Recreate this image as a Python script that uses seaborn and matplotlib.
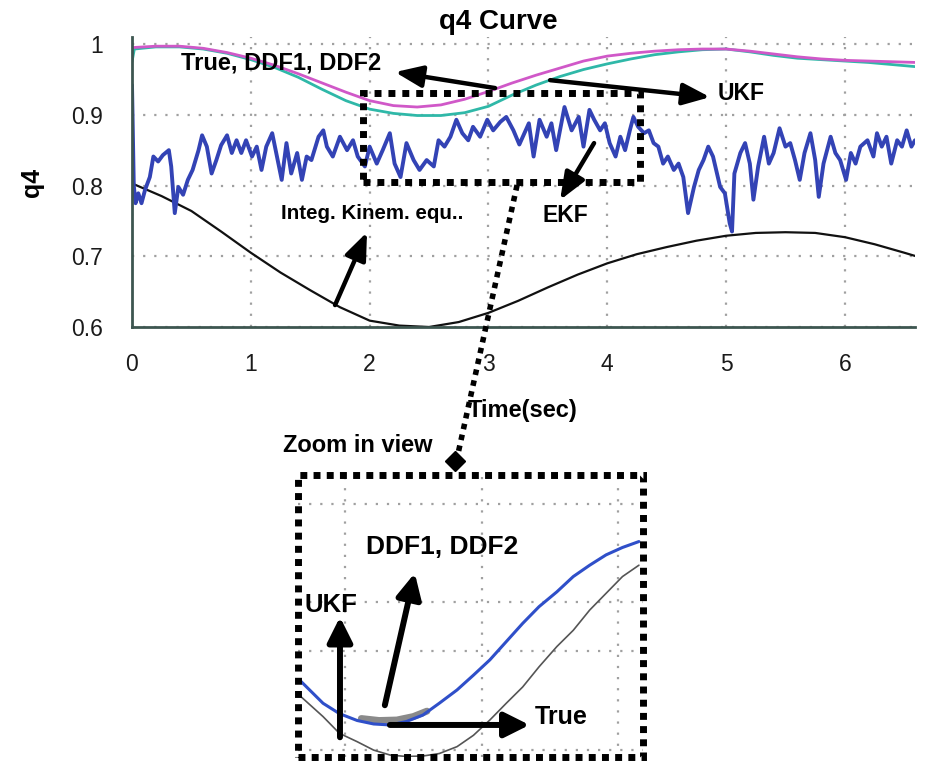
import matplotlib
matplotlib.use("Agg")
import matplotlib.pyplot as plt
import seaborn as sns
from matplotlib.patches import Rectangle

# ---------------- data (main plot) ----------------
true_t = [0.0, 0.2, 0.4, 0.6, 0.8, 1.0, 1.2, 1.4, 1.6, 1.8, 2.0, 2.2, 2.4, 2.6, 2.8, 3.0, 3.2, 3.4, 3.6,
          3.8, 4.0, 4.2, 4.4, 4.6, 4.8, 5.0, 5.2, 5.4, 5.6, 5.8, 6.0, 6.2, 6.4, 6.6]
true_q = [0.995, 0.997, 0.997, 0.994, 0.988, 0.980, 0.970, 0.958, 0.945, 0.932, 0.920, 0.913, 0.911, 0.914,
          0.922, 0.933, 0.945, 0.956, 0.966, 0.976, 0.983, 0.987, 0.990, 0.992, 0.993, 0.993, 0.990, 0.986,
          0.982, 0.979, 0.977, 0.976, 0.975, 0.974]

ukf_t = [0.0, 0.02, 0.2, 0.4, 0.6, 0.8, 1.0, 1.2, 1.4, 1.6, 1.8, 2.0, 2.2, 2.4, 2.6, 2.8, 3.0, 3.2, 3.4,
         3.6, 3.8, 4.0, 4.2, 4.4, 4.6, 4.8, 5.0, 5.2, 5.4, 5.6, 5.8, 6.0, 6.2, 6.4, 6.6]
ukf_q = [0.975, 0.993, 0.996, 0.996, 0.993, 0.987, 0.978, 0.967, 0.953, 0.936, 0.920, 0.908, 0.902, 0.899,
         0.899, 0.903, 0.912, 0.928, 0.942, 0.954, 0.964, 0.972, 0.979, 0.985, 0.989, 0.992, 0.993, 0.989,
         0.984, 0.980, 0.978, 0.976, 0.974, 0.971, 0.968]

ekf_t = [0.0, 0.015, 0.03, 0.053, 0.08, 0.11, 0.15, 0.18, 0.22, 0.26, 0.31, 0.33, 0.36, 0.39, 0.43, 0.47,
         0.51, 0.56, 0.59, 0.63, 0.67, 0.71, 0.75, 0.80, 0.84, 0.88, 0.92, 0.96, 1.01, 1.05, 1.09, 1.13,
         1.18, 1.22, 1.26, 1.30, 1.34, 1.39, 1.43, 1.47, 1.51, 1.57, 1.61, 1.64, 1.69, 1.75, 1.81, 1.86,
         1.90, 1.96, 2.00, 2.06, 2.11, 2.17, 2.21, 2.26, 2.31, 2.37, 2.42, 2.48, 2.54, 2.58, 2.63, 2.68,
         2.73, 2.78, 2.83, 2.87, 2.93, 2.99, 3.04, 3.10, 3.15, 3.21, 3.26, 3.34, 3.38, 3.43, 3.49, 3.53,
         3.57, 3.64, 3.70, 3.76, 3.80, 3.85, 3.89, 3.94, 3.98, 4.02, 4.07, 4.11, 4.15, 4.19, 4.22, 4.26,
         4.31, 4.35, 4.39, 4.43, 4.47, 4.51, 4.56, 4.60, 4.64, 4.68, 4.73, 4.77, 4.81, 4.85, 4.89, 4.95,
         4.99, 5.03, 5.05, 5.07, 5.12, 5.16, 5.20, 5.23, 5.27, 5.32, 5.36, 5.40, 5.45, 5.50, 5.54, 5.58,
         5.62, 5.66, 5.71, 5.75, 5.78, 5.82, 5.88, 5.92, 5.96, 6.01, 6.05, 6.09, 6.13, 6.19, 6.24, 6.27,
         6.31, 6.35, 6.39, 6.44, 6.48, 6.52, 6.56, 6.59]
ekf_q = [0.942, 0.800, 0.775, 0.789, 0.775, 0.794, 0.812, 0.841, 0.834, 0.843, 0.850, 0.827, 0.761, 0.798, 0.787, 0.808,
         0.822, 0.850, 0.871, 0.855, 0.817, 0.836, 0.857, 0.871, 0.846, 0.864, 0.846, 0.864, 0.841, 0.855, 0.822, 0.855,
         0.874, 0.841, 0.808, 0.860, 0.817, 0.846, 0.808, 0.841, 0.836, 0.869, 0.878, 0.855, 0.841, 0.869, 0.850, 0.864,
         0.841, 0.827, 0.855, 0.831, 0.850, 0.874, 0.831, 0.812, 0.860, 0.836, 0.822, 0.836, 0.827, 0.864, 0.855, 0.869,
         0.893, 0.874, 0.864, 0.883, 0.869, 0.893, 0.878, 0.890, 0.897, 0.878, 0.858, 0.888, 0.841, 0.893, 0.869, 0.888,
         0.850, 0.911, 0.878, 0.897, 0.855, 0.907, 0.893, 0.878, 0.888, 0.860, 0.841, 0.869, 0.850, 0.878, 0.897, 0.883,
         0.874, 0.878, 0.860, 0.855, 0.831, 0.841, 0.822, 0.831, 0.812, 0.761, 0.798, 0.822, 0.836, 0.855, 0.841, 0.798,
         0.789, 0.747, 0.735, 0.817, 0.846, 0.860, 0.831, 0.780, 0.827, 0.869, 0.831, 0.846, 0.881, 0.855, 0.860, 0.836,
         0.808, 0.846, 0.874, 0.836, 0.784, 0.831, 0.869, 0.846, 0.836, 0.808, 0.846, 0.831, 0.855, 0.864, 0.841, 0.874,
         0.855, 0.869, 0.831, 0.864, 0.855, 0.878, 0.855, 0.864]

kin_t = [0.0, 0.25, 0.5, 0.75, 1.0, 1.25, 1.5, 1.75, 2.0, 2.25, 2.5, 2.75, 3.0, 3.25, 3.5, 3.75, 4.0, 4.25,
         4.5, 4.75, 5.0, 5.25, 5.5, 5.75, 6.0, 6.25, 6.5, 6.6]
kin_q = [0.803, 0.785, 0.764, 0.735, 0.705, 0.677, 0.652, 0.628, 0.609, 0.602, 0.600, 0.607, 0.620, 0.637, 0.656, 0.674,
         0.690, 0.703, 0.713, 0.722, 0.729, 0.733, 0.734, 0.733, 0.727, 0.717, 0.705, 0.700]

x_ticks = [0, 1, 2, 3, 4, 5, 6]
y_ticks = [0.6, 0.7, 0.8, 0.9, 1.0]
y_tick_labels = ["0.6", "0.7", "0.8", "0.9", "1"]

# ---------------- data (zoom-in view) ----------------
zoom_x = [0.68, 0.84, 0.96, 1.09, 1.21, 1.33, 1.45, 1.57, 1.69, 1.82, 1.94, 2.06, 2.18, 2.30, 2.42, 2.55, 2.67,
          2.79, 2.91, 3.03, 3.15]
zoom_filt = [1.39, 0.95, 0.74, 0.60, 0.53, 0.51, 0.58, 0.71, 0.95, 1.22, 1.52, 1.83, 2.20, 2.57, 2.91, 3.21, 3.52,
             3.75, 3.96, 4.11, 4.23]
zoom_true = [1.08, 0.68, 0.34, 0.17, 0.00, -0.10, -0.13, -0.12, -0.07, 0.07, 0.30, 0.61, 0.95, 1.28, 1.69, 2.10,
             2.43, 2.84, 3.18, 3.52, 3.75]
ddf_x = [1.12, 1.25, 1.38, 1.50, 1.60]
ddf_q = [0.64, 0.60, 0.61, 0.68, 0.79]

# ---------------- style ----------------
sns.set_style("white")
plt.rcParams["font.family"] = ["Liberation Sans", "DejaVu Sans"]
plt.rcParams["text.color"] = "black"

fig = plt.figure(figsize=(9.33, 7.75), dpi=100)
W, H = 933.0, 775.0

ax = fig.add_axes([132 / W, 1 - 327 / H, 783 / W, 290 / H])

sns.lineplot(x=kin_t, y=kin_q, ax=ax, color="#111111", linewidth=1.6, estimator=None, errorbar=None)
sns.lineplot(x=ekf_t, y=ekf_q, ax=ax, color="#3343b5", linewidth=2.8, estimator=None, errorbar=None)
sns.lineplot(x=ukf_t, y=ukf_q, ax=ax, color="#2fb8a8", linewidth=2.0, estimator=None, errorbar=None)
sns.lineplot(x=true_t, y=true_q, ax=ax, color="#d058c8", linewidth=2.0, estimator=None, errorbar=None)

ax.set_xlim(0, 6.59)
ax.set_ylim(0.6, 1.01)
ax.set_xticks(x_ticks)
ax.set_xticklabels([str(v) for v in x_ticks])
ax.set_yticks(y_ticks)
ax.set_yticklabels(y_tick_labels)
ax.set_xlabel("")
ax.set_ylabel("")
ax.set_axisbelow(True)
ax.grid(True, color="#a0a0a0", linestyle=(0, (1, 4)), linewidth=1.6)
for s in ["top", "right"]:
    ax.spines[s].set_visible(False)
for s in ["left", "bottom"]:
    ax.spines[s].set_color("#3d5650")
    ax.spines[s].set_linewidth(2.0)
ax.tick_params(axis="both", direction="in", length=5, width=1.5, color="#3d5650",
               labelsize=16.5, labelcolor="#1a1a1a")
ax.tick_params(axis="y", pad=21)
ax.tick_params(axis="x", pad=19)

# titles / labels
fig.text(498 / W, 1 - 22 / H, "q4 Curve", ha="center", va="center", fontsize=20, fontweight="bold")
fig.text(32 / W, 1 - 182 / H, "q4", ha="center", va="center", rotation=90, fontsize=18, fontweight="bold")
fig.text(523 / W, 1 - 410 / H, "Time(sec)", ha="center", va="center", fontsize=17, fontweight="bold")

# main annotations
arr_main = dict(arrowstyle="-|>,head_length=0.75,head_width=0.3", lw=3.2, color="black",
                mutation_scale=22, shrinkA=0, shrinkB=0)
ax.annotate("", xy=(2.214, 0.9604), xytext=(3.056, 0.9378), arrowprops=arr_main, annotation_clip=False)
ax.annotate("", xy=(4.865, 0.925), xytext=(3.519, 0.949), arrowprops=arr_main, annotation_clip=False)
ax.annotate("", xy=(3.603, 0.7795), xytext=(3.889, 0.860), arrowprops=arr_main, annotation_clip=False)
ax.annotate("", xy=(1.978, 0.734), xytext=(1.709, 0.631), arrowprops=arr_main, annotation_clip=False)

ax.text(1.258, 0.973, "True, DDF1, DDF2", ha="center", va="center", fontsize=17, fontweight="bold")
ax.text(5.126, 0.9307, "UKF", ha="center", va="center", fontsize=16.5, fontweight="bold")
ax.text(3.645, 0.758, "EKF", ha="center", va="center", fontsize=16.5, fontweight="bold")
ax.text(2.02, 0.761, "Integ. Kinem. equ..", ha="center", va="center", fontsize=14.8, fontweight="bold")

# zoom box on main axes
ax.add_patch(Rectangle((1.944, 0.805), 2.332, 0.1257, fill=False, edgecolor="black",
                       linewidth=5, linestyle=(0, (1, 1)), clip_on=False, zorder=5))
# connector line with diamond
ax.plot([3.241, 2.736], [0.8007, 0.4148], color="black", linewidth=4, linestyle=(0, (1, 1)),
        clip_on=False, zorder=5)
ax.plot([2.719], [0.4106], marker="D", markersize=10, color="black", clip_on=False, zorder=6)

fig.text(358 / W, 1 - 445 / H, "Zoom in view", ha="center", va="center", fontsize=17, fontweight="bold")

# ---------------- inset ----------------
ins = fig.add_axes([298 / W, 1 - 757 / H, 345 / W, 282 / H])
sns.lineplot(x=zoom_x, y=zoom_true, ax=ins, color="#555555", linewidth=1.2, estimator=None, errorbar=None)
sns.lineplot(x=ddf_x, y=ddf_q, ax=ins, color="#8a8a8a", linewidth=5, estimator=None, errorbar=None)
sns.lineplot(x=zoom_x, y=zoom_filt, ax=ins, color="#2f4fc9", linewidth=2.2, estimator=None, errorbar=None)
ins.set_xlim(0.657, 3.18)
ins.set_ylim(-0.14, 5.58)
ins.set_xticks([1, 2, 3])
ins.set_yticks([0, 2, 3, 5])
ins.set_xticklabels([])
ins.set_yticklabels([])
ins.set_xlabel("")
ins.set_ylabel("")
ins.tick_params(length=0)
ins.set_axisbelow(True)
ins.grid(True, color="#a0a0a0", linestyle=(0, (1, 4)), linewidth=1.6)
for s in ins.spines.values():
    s.set_visible(False)
ins.add_patch(Rectangle((0, 0), 1, 1, transform=ins.transAxes, fill=False, edgecolor="black",
                        linewidth=5, linestyle=(0, (1, 0.9)), clip_on=False, zorder=5))

arr_ins = dict(arrowstyle="-|>,head_length=0.6,head_width=0.3", lw=4.3, color="black",
               mutation_scale=25, shrinkA=0, shrinkB=0)
ins.annotate("", xy=(0.964, 2.70), xytext=(0.964, 0.26), arrowprops=arr_ins)
ins.annotate("", xy=(1.511, 3.59), xytext=(1.292, 0.91), arrowprops=arr_ins)
ins.annotate("", xy=(2.35, 0.51), xytext=(1.329, 0.51), arrowprops=arr_ins)
ins.text(1.708, 4.12, "DDF1, DDF2", ha="center", va="center", fontsize=19, fontweight="bold")
ins.text(0.898, 2.94, "UKF", ha="center", va="center", fontsize=18.5, fontweight="bold")
ins.text(2.584, 0.67, "True", ha="center", va="center", fontsize=18, fontweight="bold")

fig.savefig("out.png", dpi=100)
